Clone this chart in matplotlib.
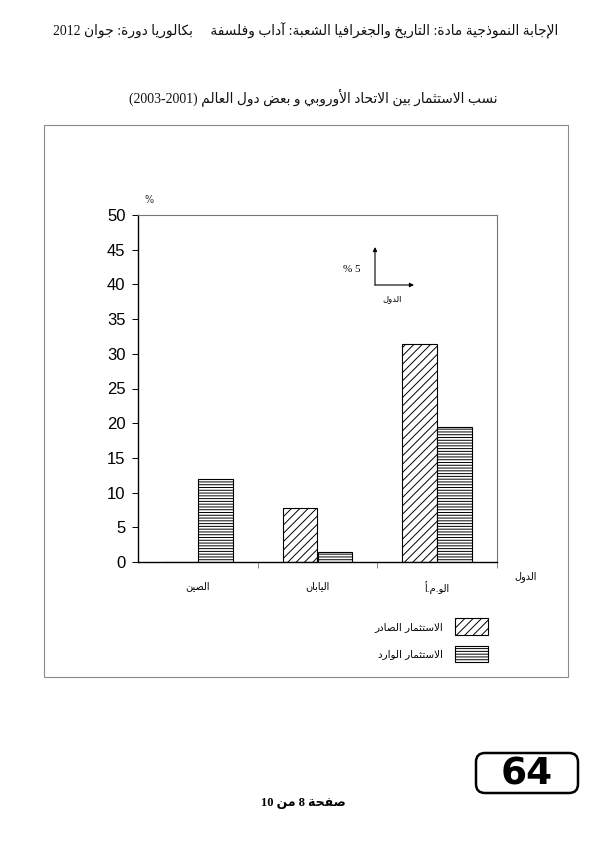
import re
import matplotlib
matplotlib.use("Agg")
import matplotlib.pyplot as plt
import numpy as np
from matplotlib.patches import Rectangle, FancyBboxPatch
from matplotlib.transforms import IdentityTransform

# ---------------- data ----------------
countries = ["الصين", "اليابان", "الو.م.أ"]
outgoing = [0.0, 7.8, 31.4]     # الاستثمار الصادر
incoming = [12.0, 1.4, 19.4]    # الاستثمار الوارد
series_labels = ["الاستثمار الصادر", "الاستثمار الوارد"]
yticks = [0, 5, 10, 15, 20, 25, 30, 35, 40, 45, 50]

header = "الإجابة النموذجية مادة: التاريخ والجغرافيا الشعبة: آداب وفلسفة     بكالوريا دورة: جوان 2012"
title = "نسب الاستثمار بين الاتحاد الأوروبي و بعض دول العالم (2001-2003)"
xlabel = "الدول"
scale_label = "5 %"
footer = "صفحة 8 من 10"
score = "64"

# ---------------- minimal Arabic shaping + visual ordering ----------------
FOUR = {'ئ': 0xFE89, 'ب': 0xFE8F, 'ت': 0xFE95, 'ث': 0xFE99, 'ج': 0xFE9D, 'ح': 0xFEA1,
        'خ': 0xFEA5, 'س': 0xFEB1, 'ش': 0xFEB5, 'ص': 0xFEB9, 'ض': 0xFEBD, 'ط': 0xFEC1,
        'ظ': 0xFEC5, 'ع': 0xFEC9, 'غ': 0xFECD, 'ف': 0xFED1, 'ق': 0xFED5, 'ك': 0xFED9,
        'ل': 0xFEDD, 'م': 0xFEE1, 'ن': 0xFEE5, 'ه': 0xFEE9, 'ي': 0xFEF1}
TWO = {'آ': 0xFE81, 'أ': 0xFE83, 'ؤ': 0xFE85, 'إ': 0xFE87, 'ا': 0xFE8D, 'ة': 0xFE93,
       'د': 0xFEA9, 'ذ': 0xFEAB, 'ر': 0xFEAD, 'ز': 0xFEAF, 'و': 0xFEED, 'ى': 0xFEEF}
ONE = {'ء': 0xFE80}
LAMALEF = {'آ': 0xFEF5, 'أ': 0xFEF7, 'إ': 0xFEF9, 'ا': 0xFEFB}


def _joins_left(c):
    return c in FOUR or c == 'ـ'


def _joinable(c):
    return c in FOUR or c in TWO or c == 'ـ'


def shape(s):
    out = []
    i, n = 0, len(s)
    while i < n:
        c = s[i]
        jp = i > 0 and _joins_left(s[i - 1])
        if c == 'ل' and i + 1 < n and s[i + 1] in LAMALEF:
            out.append(chr(LAMALEF[s[i + 1]] + (1 if jp else 0)))
            i += 2
            continue
        nxt = s[i + 1] if i + 1 < n else None
        jn = _joins_left(c) and nxt is not None and _joinable(nxt)
        if c in FOUR:
            b = FOUR[c]
            out.append(chr(b + (3 if (jp and jn) else 1 if jp else 2 if jn else 0)))
        elif c in TWO:
            out.append(chr(TWO[c] + (1 if jp else 0)))
        elif c in ONE:
            out.append(chr(ONE[c]))
        else:
            out.append(c)
        i += 1
    return ''.join(out)


def vis(s):
    s = shape(s)
    runs = re.findall(r'[0-9]+|[^0-9]+', s)
    res = []
    for r in reversed(runs):
        if r[0].isdigit():
            res.append(r)
        else:
            res.append(r[::-1].translate(str.maketrans('()', ')(')))
    return ''.join(res)


# ---------------- figure ----------------
W, H = 600, 847
fig = plt.figure(figsize=(W / 100, H / 100), dpi=100)
fig.patch.set_facecolor('white')
plt.rcParams['hatch.linewidth'] = 0.7

AR = ['DejaVu Sans']
SERIF_AR = ['Liberation Serif', 'DejaVu Sans']


def P(x, y):
    return (x / W, 1 - y / H)


# outer frame
fig.patches.append(Rectangle(P(44, 677), (568 - 44) / W, (677 - 125) / H,
                             transform=fig.transFigure, fill=False,
                             edgecolor='#8a8a8a', lw=0.8))

# header & title
fig.text(*P(558, 31), vis(header), ha='right', va='center', fontsize=9.9,
         family=SERIF_AR, color='#111111')
fig.text(*P(313, 97), vis(title), ha='center', va='center', fontsize=9.9,
         family=SERIF_AR, color='#111111')

# axes
x0, x1, ytop, ybot = 138, 497, 215, 562
ax = fig.add_axes([x0 / W, 1 - ybot / H, (x1 - x0) / W, (ybot - ytop) / H])
xpos = np.arange(len(countries))
bw = 0.29
ax.bar(xpos - bw / 2, outgoing, bw, facecolor='white', edgecolor='black',
       hatch='////', lw=0.8, label=vis(series_labels[0]))
ax.bar(xpos + bw / 2, incoming, bw, facecolor='white', edgecolor='black',
       hatch='------', lw=0.8, label=vis(series_labels[1]))

ax.set_xlim(-0.5, 2.5)
ax.set_ylim(0, 50)
ax.set_yticks(yticks)
ax.set_yticklabels([str(v) for v in yticks], fontsize=12, family='Liberation Sans')
ax.tick_params(axis='y', direction='out', length=4, width=0.7, pad=5, colors='black')

ax.set_xticks(xpos + 0.5)
ax.set_xticklabels([])
ax.tick_params(axis='x', which='major', direction='out', length=4, width=0.6, color='#777777')
ax.set_xticks(xpos, minor=True)
ax.set_xticklabels([vis(c) for c in countries], minor=True, fontsize=7, family=AR)
ax.tick_params(axis='x', which='minor', length=0, pad=14)

for s in ['left', 'bottom']:
    ax.spines[s].set_color('black')
    ax.spines[s].set_linewidth(1.0)
for s in ['top', 'right']:
    ax.spines[s].set_color('#777777')
    ax.spines[s].set_linewidth(0.8)

# % label and axis label
fig.text(*P(149, 200), "%", ha='center', va='center', fontsize=7, color='#333333')
fig.text(*P(526, 577), vis(xlabel), ha='center', va='center', fontsize=7, family=AR)

# small scale indicator
ox, oy = 375, 285
fig.add_artist(matplotlib.patches.FancyArrowPatch(P(ox, oy), P(ox, 247), transform=fig.transFigure,
               arrowstyle='-|>', mutation_scale=6, lw=0.8, color='black',
               shrinkA=0, shrinkB=0))
fig.add_artist(matplotlib.patches.FancyArrowPatch(P(ox, oy), P(414, oy), transform=fig.transFigure,
               arrowstyle='-|>', mutation_scale=6, lw=0.8, color='black',
               shrinkA=0, shrinkB=0))
fig.text(*P(352, 269), vis(scale_label), ha='center', va='center', fontsize=8,
         family='Liberation Serif')
fig.text(*P(392, 299), vis(xlabel), ha='center', va='center', fontsize=6, family=AR)

# legend (text on the left, key on the right)
leg = fig.legend(loc='upper right', bbox_to_anchor=P(488, 618), frameon=False,
                 markerfirst=False, prop={'family': AR, 'size': 7.5},
                 handlelength=3.2, handleheight=2.1, handletextpad=1.1,
                 labelspacing=1.05, borderpad=0, borderaxespad=0)

# score box
fig.patches.append(FancyBboxPatch((476, H - 793), 102, 40,
                                  boxstyle='round,pad=0,rounding_size=9',
                                  transform=IdentityTransform(), fill=False,
                                  edgecolor='black', lw=1.8))
fig.text(*P(527, 774), score, ha='center', va='center', fontsize=27,
         fontweight='bold', family='DejaVu Sans')

# footer
fig.text(*P(303, 803), vis(footer), ha='center', va='center', fontsize=9,
         fontweight='bold', family=SERIF_AR)

fig.savefig('out.png', dpi=100, facecolor='white')
